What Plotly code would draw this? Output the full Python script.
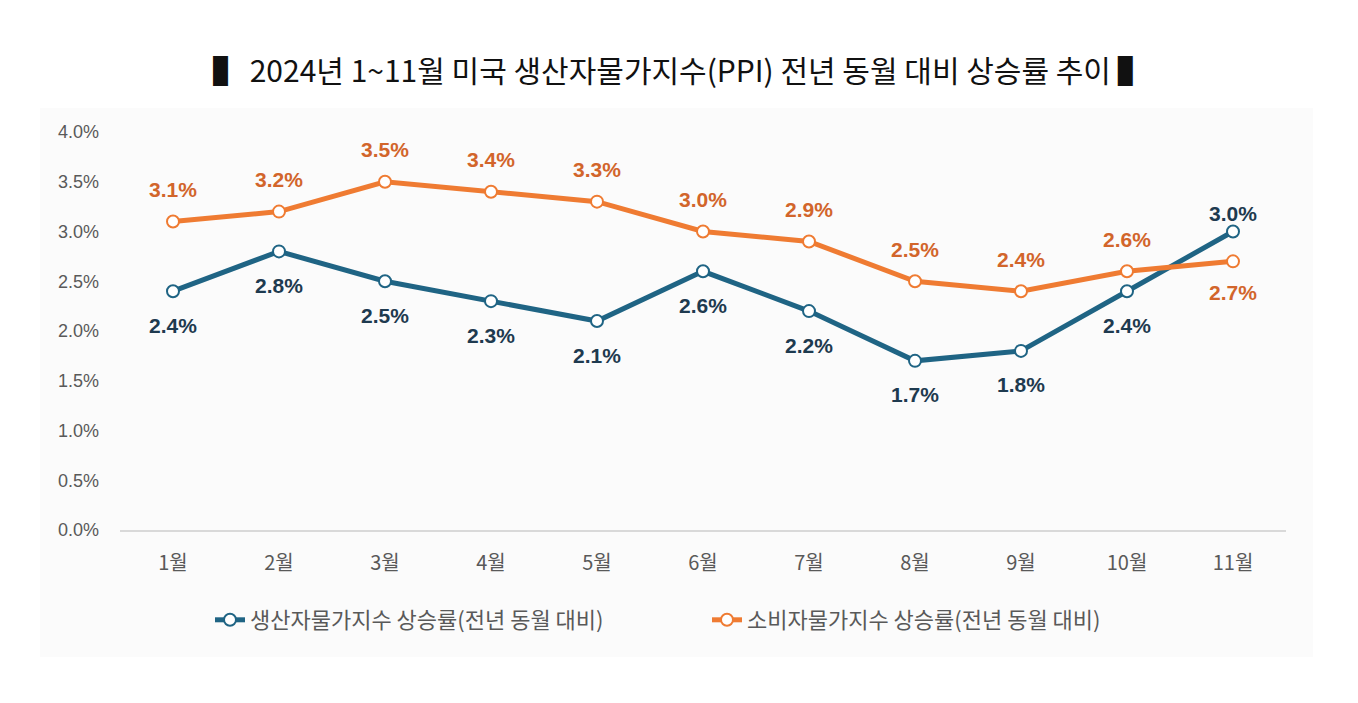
import plotly.graph_objects as go

months = ["1월", "2월", "3월", "4월", "5월", "6월", "7월", "8월", "9월", "10월", "11월"]
ppi = [2.4, 2.8, 2.5, 2.3, 2.1, 2.6, 2.2, 1.7, 1.8, 2.4, 3.0]
cpi = [3.1, 3.2, 3.5, 3.4, 3.3, 3.0, 2.9, 2.5, 2.4, 2.6, 2.7]
ppi_label_pos = ["below"] * 10 + ["above"]
cpi_label_pos = ["above"] * 10 + ["below"]
y_ticks = [0, 0.5, 1.0, 1.5, 2.0, 2.5, 3.0, 3.5, 4.0]
y_tick_text = ["0.0%", "0.5%", "1.0%", "1.5%", "2.0%", "2.5%", "3.0%", "3.5%", "4.0%"]

title_text = "▌ 2024년 1~11월 미국 생산자물가지수(PPI) 전년 동월 대비 상승률 추이 ▌"
ppi_name = "생산자물가지수 상승률(전년 동월 대비)"
cpi_name = "소비자물가지수 상승률(전년 동월 대비)"

PPI_COLOR = "#1f6484"
CPI_COLOR = "#ef7b32"
PPI_LABEL = "#1e3a4f"
CPI_LABEL = "#d2652b"
GRAY = "#595959"
FONT = "Liberation Sans, Noto Sans CJK KR, sans-serif"
KFONT = "Noto Sans CJK KR, sans-serif"

# plot area in figure pixels (page has an 8px body margin)
W, H = 1358, 703
L, R, T, B = 112, 80, 124, 181
PW, PH = W - L - R, H - T - B

fig = go.Figure()
fig.add_trace(go.Scatter(
    x=months, y=ppi, name=ppi_name, mode="lines+markers",
    line=dict(color=PPI_COLOR, width=5),
    marker=dict(size=12, color="white", line=dict(color=PPI_COLOR, width=2)),
))
fig.add_trace(go.Scatter(
    x=months, y=cpi, name=cpi_name, mode="lines+markers",
    line=dict(color=CPI_COLOR, width=5),
    marker=dict(size=12, color="white", line=dict(color=CPI_COLOR, width=2)),
))

annotations = []
for m, v, p in zip(months, ppi, ppi_label_pos):
    annotations.append(dict(x=m, y=v, text=f"{v:.1f}%", showarrow=False,
                            yshift=-34 if p == "below" else 18,
                            font=dict(family=FONT, size=21, color=PPI_LABEL, weight="bold")))
for m, v, p in zip(months, cpi, cpi_label_pos):
    annotations.append(dict(x=m, y=v, text=f"{v:.1f}%", showarrow=False,
                            yshift=32 if p == "above" else -31,
                            font=dict(family=FONT, size=21, color=CPI_LABEL, weight="bold")))
annotations.append(dict(xref="paper", yref="paper", x=(680 - 8 - L) / PW, y=1 + (T - 61) / PH,
                        xanchor="center", yanchor="middle",
                        text=title_text, showarrow=False,
                        font=dict(family=KFONT, size=30, color="#111111")))

fig.update_layout(
    width=W, height=H,
    paper_bgcolor="white", plot_bgcolor="rgba(0,0,0,0)",
    margin=dict(l=L, r=R, t=T, b=B, autoexpand=False),
    showlegend=True,
    legend=dict(orientation="h", x=(210 - 8 - L) / PW, xanchor="left",
                y=-(612 - 522) / PH, yanchor="middle",
                font=dict(family=KFONT, size=22, color=GRAY),
                entrywidth=452, bgcolor="rgba(0,0,0,0)"),
    annotations=annotations,
    shapes=[dict(type="rect", xref="paper", yref="paper", layer="below",
                 x0=(32 - L) / PW, x1=(1305 - L) / PW, y0=-(649 - 522) / PH, y1=1 + (T - 100) / PH,
                 fillcolor="#fbfbfb", line=dict(width=0))],
    xaxis=dict(range=[-0.5, 10.5], showgrid=False, showline=True, linecolor="#d9d9d9", linewidth=1.5,
               ticks="", tickfont=dict(family=KFONT, size=20, color=GRAY), ticklabelstandoff=14,
               zeroline=False),
    yaxis=dict(range=[0, 4], tickvals=y_ticks, ticktext=y_tick_text, showgrid=False,
               zeroline=False, showline=False, ticks="", ticklabelstandoff=20,
               tickfont=dict(family=FONT, size=18, color=GRAY)),
)

fig.write_html("out.html")
